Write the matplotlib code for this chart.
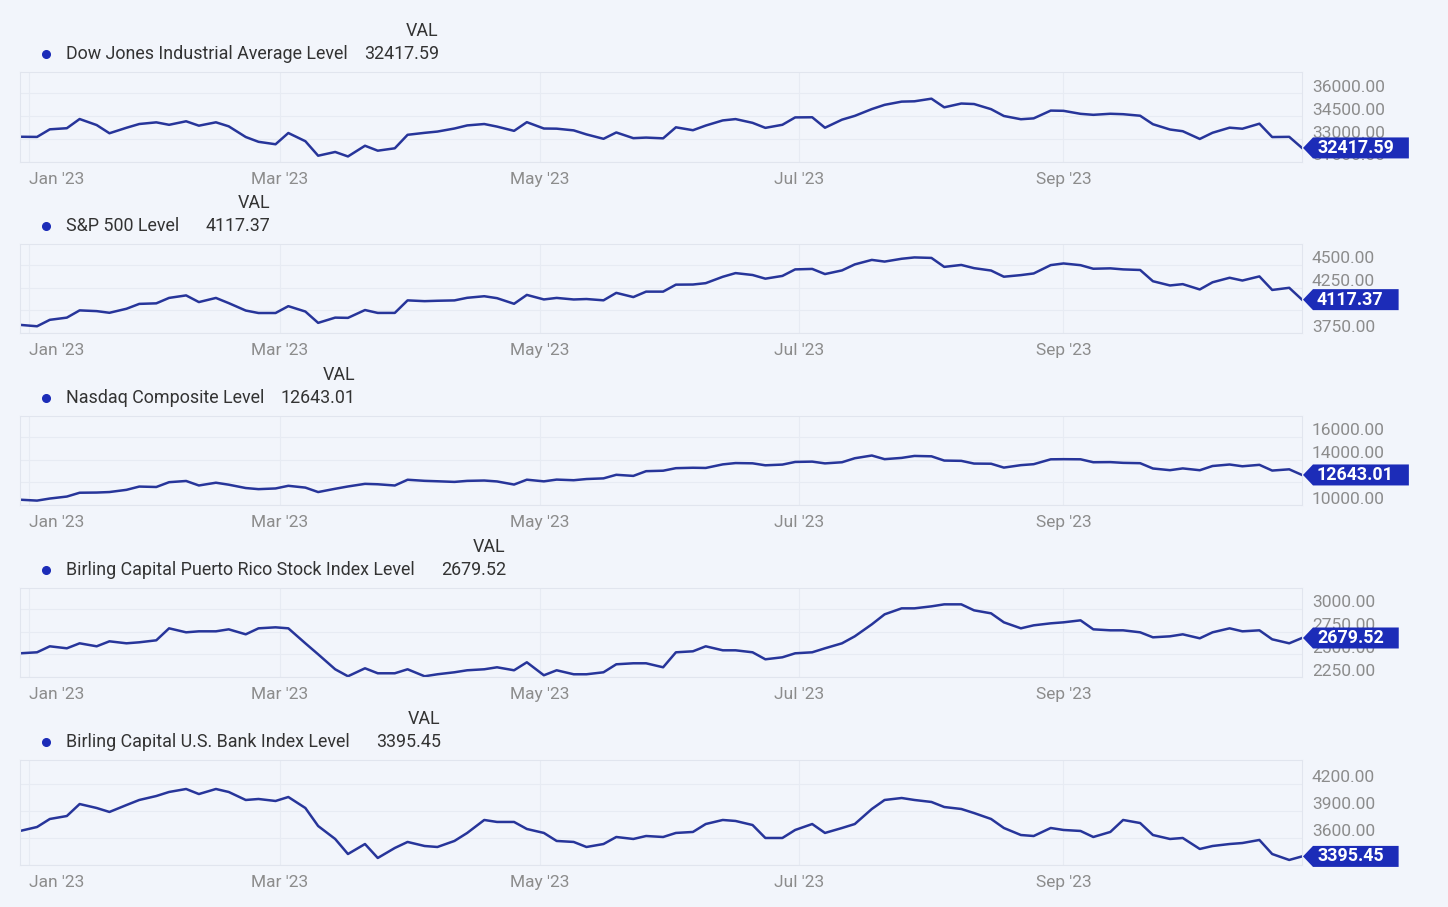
import matplotlib
matplotlib.use("Agg")
import matplotlib.pyplot as plt
import matplotlib.transforms as mtransforms
from matplotlib.patches import Polygon
from matplotlib.lines import Line2D
import pandas as pd

plt.rcParams["font.family"] = ["Roboto", "DejaVu Sans"]

# ---- data (Tue/Fri closes) ----
fridays = pd.date_range("2022-12-30", "2023-10-27", freq="W-FRI")
tuesdays = pd.date_range("2023-01-03", "2023-10-24", freq="W-TUE")
dates = fridays.union(tuesdays)

names = ["Dow Jones Industrial Average Level", "S&P 500 Level", "Nasdaq Composite Level",
         "Birling Capital Puerto Rico Stock Index Level", "Birling Capital U.S. Bank Index Level"]
last_values = ["32417.59", "4117.37", "12643.01", "2679.52", "3395.45"]

dow = [33147, 33136, 33631, 33704, 34303, 33910, 33375, 33733, 33978, 34086,
       33926, 34156, 33869, 34089, 33827, 33130, 32817, 32657, 33391, 32856,
       31910, 32155, 31862, 32560, 32238, 32394, 33274, 33402, 33485, 33684,
       33886, 33977, 33809, 33531, 34098, 33684, 33674, 33562, 33300, 33012,
       33427, 33055, 33093, 33043, 33763, 33573, 33877, 34212, 34299, 34054,
       33727, 33927, 34408, 34418, 33735, 34262, 34509, 34952, 35228, 35438,
       35459, 35630, 35066, 35314, 35281, 34946, 34501, 34289, 34346, 34853,
       34838, 34642, 34577, 34646, 34618, 34518, 33964, 33619, 33508, 33003,
       33408, 33739, 33670, 33998, 33127, 33141, 32417.59]

sp500 = [3839.50, 3824.14, 3895.08, 3919.25, 3999.09, 3990.97, 3972.61, 4016.95, 4070.56, 4076.60,
         4136.48, 4164.00, 4090.46, 4136.13, 4079.09, 3997.34, 3970.04, 3970.15, 4045.64, 3986.37,
         3861.59, 3919.29, 3916.64, 4002.87, 3970.99, 3971.27, 4109.31, 4100.60, 4105.02, 4108.94,
         4137.64, 4154.87, 4133.52, 4071.63, 4169.48, 4119.58, 4136.25, 4119.17, 4124.08, 4109.90,
         4191.98, 4145.58, 4205.45, 4205.52, 4282.37, 4283.85, 4298.86, 4369.01, 4409.59, 4388.71,
         4348.33, 4378.41, 4450.38, 4455.59, 4398.95, 4439.26, 4505.42, 4554.98, 4536.34, 4567.46,
         4582.23, 4576.73, 4478.03, 4499.38, 4464.05, 4437.86, 4369.71, 4387.55, 4405.71, 4497.63,
         4515.77, 4496.83, 4457.49, 4461.90, 4450.32, 4443.95, 4320.06, 4273.53, 4288.05, 4229.45,
         4308.50, 4358.24, 4327.78, 4373.20, 4224.16, 4247.68, 4117.37]

nasdaq = [10466.48, 10386.98, 10569.29, 10742.63, 11079.16, 11095.11, 11140.43, 11334.27, 11621.71, 11584.55,
          12006.96, 12113.79, 11718.12, 11960.15, 11787.27, 11492.30, 11394.94, 11455.54, 11689.01, 11530.33,
          11138.89, 11428.15, 11630.51, 11860.11, 11823.96, 11716.08, 12221.91, 12126.33, 12087.96, 12031.88,
          12123.47, 12153.41, 12072.46, 11799.16, 12226.58, 12080.51, 12235.41, 12179.55, 12284.74, 12343.05,
          12657.90, 12560.25, 12975.69, 13017.43, 13240.77, 13276.42, 13259.14, 13573.32, 13689.57, 13667.29,
          13492.52, 13555.67, 13787.92, 13816.77, 13660.72, 13760.70, 14113.70, 14353.64, 14032.81, 14144.56,
          14316.66, 14283.91, 13909.24, 13884.32, 13644.85, 13631.05, 13290.78, 13505.87, 13590.65, 14019.31,
          14031.81, 14020.95, 13761.53, 13773.61, 13708.33, 13678.19, 13211.81, 13063.61, 13219.32, 13059.47,
          13431.34, 13562.84, 13407.23, 13533.75, 13029.73, 13139.88, 12643.01]

birling_pr = [2511, 2522, 2588, 2566, 2621, 2588, 2643, 2621, 2632, 2654,
              2786, 2742, 2753, 2753, 2775, 2720, 2786, 2797, 2786, 2621,
              2500, 2335, 2258, 2346, 2291, 2291, 2335, 2258, 2280, 2302,
              2324, 2335, 2357, 2324, 2412, 2269, 2324, 2280, 2280, 2302,
              2390, 2401, 2401, 2357, 2522, 2533, 2588, 2544, 2544, 2522,
              2445, 2467, 2511, 2522, 2566, 2621, 2698, 2830, 2940, 3006,
              3006, 3028, 3050, 3050, 2984, 2951, 2852, 2786, 2819, 2841,
              2852, 2874, 2775, 2764, 2764, 2742, 2687, 2698, 2720, 2676,
              2742, 2786, 2753, 2764, 2665, 2621, 2679.52]

birling_bank = [3678, 3722, 3811, 3844, 3977, 3933, 3889, 3966, 4022, 4066,
                4111, 4144, 4088, 4144, 4111, 4022, 4033, 4011, 4055, 3933,
                3733, 3589, 3422, 3533, 3378, 3489, 3556, 3511, 3500, 3567,
                3656, 3800, 3778, 3778, 3700, 3656, 3567, 3556, 3500, 3533,
                3611, 3589, 3622, 3611, 3656, 3667, 3755, 3800, 3789, 3744,
                3600, 3600, 3689, 3755, 3656, 3711, 3755, 3922, 4022, 4044,
                4022, 4000, 3944, 3922, 3877, 3811, 3711, 3633, 3622, 3711,
                3689, 3678, 3611, 3667, 3800, 3766, 3633, 3589, 3600, 3478,
                3511, 3533, 3544, 3578, 3422, 3356, 3395.45]

series = [dow, sp500, nasdaq, birling_pr, birling_bank]
yticks = [[31500, 33000, 34500, 36000],
          [3750, 4000, 4250, 4500],
          [10000, 12000, 14000, 16000],
          [2250, 2500, 2750, 3000],
          [3300, 3600, 3900, 4200]]
ylims = [(31500, 37370), (3750, 4730), (10000, 17830), (2250, 3230), (3300, 4466)]
month_ticks = pd.to_datetime(["2023-01-01", "2023-03-01", "2023-05-01", "2023-07-01", "2023-09-01"])
month_labels = ["Jan '23", "Mar '23", "May '23", "Jul '23", "Sep '23"]

# ---- style / layout ----
W, H = 1448, 907
bg = "#f2f5fb"
line_c = "#27359a"
grid_c = "#e7ebf3"
gray = "#8c8c8c"
dark = "#333333"
box_c = "#1c2cb8"
tops = [72, 244, 416, 588, 760]
bots = [162, 333, 505, 677, 865]
left, right = 20, 1302
hfs = 12.9  # header font size

fig = plt.figure(figsize=(W / 100, H / 100), dpi=100, facecolor=bg)
renderer = fig.canvas.get_renderer()

def fy(py):
    return 1 - py / H

tmp = fig.text(0, 0, "32417.59", fontsize=hfs)
w8 = tmp.get_window_extent(renderer).width
tmp.remove()

for i in range(5):
    top, bot = tops[i], bots[i]
    ax = fig.add_axes([left / W, fy(bot), (right - left) / W, (bot - top) / H])
    ax.set_facecolor(bg)
    ax.plot(dates, series[i], color=line_c, lw=1.8, solid_joinstyle="round")
    ax.set_xlim(pd.Timestamp("2022-12-30"), pd.Timestamp("2023-10-27"))
    ax.set_ylim(*ylims[i])
    ax.set_yticks(yticks[i])
    ax.set_yticklabels([])
    ax.set_xticks(month_ticks)
    ax.set_xticklabels(month_labels, color=gray, fontsize=12.5)
    ax.get_xticklabels()[0].set_ha("left")
    ax.tick_params(axis="both", length=0)
    ax.tick_params(axis="x", pad=7)
    ax.grid(True, color=grid_c, lw=0.8)
    for sp in ax.spines.values():
        sp.set_color("#e1e5ee")
        sp.set_linewidth(0.8)

    # right axis labels, sitting a little above their grid lines
    trans = mtransforms.blended_transform_factory(ax.transAxes, ax.transData) + \
        mtransforms.ScaledTranslation(10 / 100, 6 / 100, fig.dpi_scale_trans)
    for v in yticks[i]:
        ax.text(1, v, f"{v:.2f}", transform=trans, ha="left", va="center",
                color=gray, fontsize=12.5, clip_on=False)

    # legend header
    ny = top - 18
    fig.add_artist(Line2D([46 / W], [fy(ny)], marker="o", ms=5.5, color=box_c,
                          transform=fig.transFigure))
    t = fig.text(66 / W, fy(ny), names[i], ha="left", va="center", fontsize=hfs, color=dark)
    x1 = t.get_window_extent(renderer).x1
    vr = x1 + 16 + w8
    fig.text(vr / W, fy(ny), last_values[i], ha="right", va="center", fontsize=hfs, color=dark)
    fig.text(vr / W, fy(top - 41), "VAL", ha="right", va="center", fontsize=hfs, color=dark)

    # last value flag
    yc = ax.transData.transform((0, series[i][-1]))[1]
    lt = fig.text(1317 / W, yc / H, last_values[i], ha="left", va="center", fontsize=12.9,
                  color="white", weight="bold", zorder=6)
    bx = lt.get_window_extent(renderer).x1 + 15
    pts = [(1303, yc), (1313, yc + 10.5), (bx, yc + 10.5), (bx, yc - 10.5), (1313, yc - 10.5)]
    fig.add_artist(Polygon([(px / W, py / H) for px, py in pts], closed=True,
                           transform=fig.transFigure, facecolor=box_c, edgecolor="none", zorder=5))

fig.savefig("out.png", dpi=100, facecolor=bg)
